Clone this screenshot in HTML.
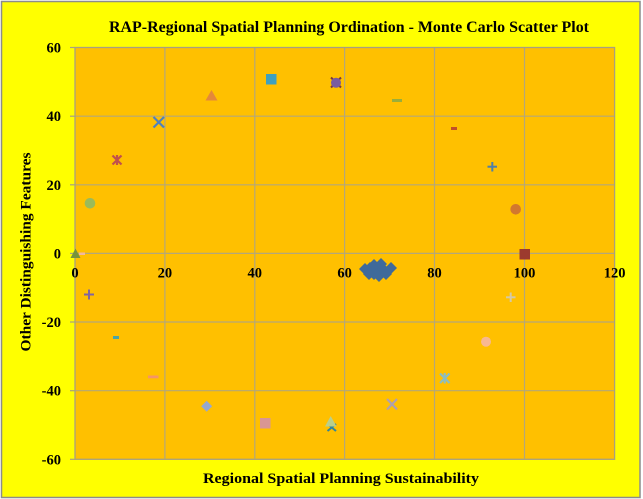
<!DOCTYPE html>
<html><head><meta charset="utf-8"><style>
html,body{margin:0;padding:0;background:#fff;}
svg{display:block;}
text{font-family:"Liberation Serif",serif;font-weight:bold;fill:#000;}
</style></head><body>
<svg width="643" height="499" viewBox="0 0 643 499" xmlns="http://www.w3.org/2000/svg">
<rect x="0" y="0" width="643" height="499" fill="#ffffff"/>
<rect x="1.5" y="1.5" width="638.5" height="496" fill="#FFFF00" stroke="#8c8c8c" stroke-width="1.5"/>
<text x="349" y="32" font-size="15.5" text-anchor="middle" textLength="480" lengthAdjust="spacingAndGlyphs">RAP-Regional Spatial Planning Ordination  - Monte Carlo Scatter Plot</text>
<!-- plot area -->
<rect x="75" y="47.5" width="539.6" height="411.8" fill="#FFC000"/>
<g stroke="#B3A77A" stroke-width="1.2">
<line x1="164.9" y1="47.5" x2="164.9" y2="459.3"/>
<line x1="254.8" y1="47.5" x2="254.8" y2="459.3"/>
<line x1="344.6" y1="47.5" x2="344.6" y2="459.3"/>
<line x1="434.5" y1="47.5" x2="434.5" y2="459.3"/>
<line x1="524.5" y1="47.5" x2="524.5" y2="459.3"/>
<line x1="75" y1="116.2" x2="614.6" y2="116.2"/>
<line x1="75" y1="184.8" x2="614.6" y2="184.8"/>
<line x1="75" y1="253.4" x2="614.6" y2="253.4"/>
<line x1="75" y1="322" x2="614.6" y2="322"/>
<line x1="75" y1="390.7" x2="614.6" y2="390.7"/>
</g>
<rect x="75" y="47.5" width="539.6" height="411.8" fill="none" stroke="#A8A080" stroke-width="1.3"/>
<!-- y ticks -->
<g stroke="#A8A080" stroke-width="1.2">
<line x1="70" y1="47.5" x2="75" y2="47.5"/>
<line x1="70" y1="116.2" x2="75" y2="116.2"/>
<line x1="70" y1="184.8" x2="75" y2="184.8"/>
<line x1="70" y1="253.4" x2="75" y2="253.4"/>
<line x1="70" y1="322" x2="75" y2="322"/>
<line x1="70" y1="390.7" x2="75" y2="390.7"/>
<line x1="70" y1="459.3" x2="75" y2="459.3"/>
</g>
<g font-size="14.5" text-anchor="end">
<text x="61" y="52.5">60</text>
<text x="61" y="121.2">40</text>
<text x="61" y="189.8">20</text>
<text x="61" y="258.4">0</text>
<text x="61" y="327">-20</text>
<text x="61" y="395.7">-40</text>
<text x="61" y="464.3">-60</text>
</g>
<g font-size="14.5" text-anchor="middle">
<text x="75" y="277.5">0</text>
<text x="164.9" y="277.5">20</text>
<text x="254.8" y="277.5">40</text>
<text x="344.6" y="277.5">60</text>
<text x="434.5" y="277.5">80</text>
<text x="524.5" y="277.5">100</text>
<text x="614.6" y="277.5">120</text>
</g>
<text x="341" y="483" font-size="14.5" text-anchor="middle" textLength="276" lengthAdjust="spacingAndGlyphs">Regional  Spatial Planning Sustainability</text>
<text transform="translate(30.5,252) rotate(-90)" font-size="14.5" text-anchor="middle" textLength="199" lengthAdjust="spacingAndGlyphs">Other Distinguishing Features</text>

<!-- markers -->
<polygon points="75.5,248.5 70.5,258 80.5,258" fill="#76923C"/>
<rect x="79" y="252.5" width="6" height="2.5" fill="#F2B8A0"/>
<circle cx="90" cy="203.3" r="5.3" fill="#9BBB59"/>
<g stroke="#C0504D" stroke-width="2.2">
<line x1="112.5" y1="155.5" x2="121.5" y2="164.5"/>
<line x1="121.5" y1="155.5" x2="112.5" y2="164.5"/>
<line x1="117" y1="155" x2="117" y2="165"/>
</g>
<g stroke="#4F81BD" stroke-width="2.2">
<line x1="153.5" y1="117" x2="164" y2="127.5"/>
<line x1="164" y1="117" x2="153.5" y2="127.5"/>
</g>
<polygon points="211.5,90 205.5,100.5 217.5,100.5" fill="#E4883A"/>
<rect x="266" y="74" width="10.5" height="10.5" fill="#3FA0BE"/>
<g stroke="#7B3A3A" stroke-width="2">
<line x1="331" y1="77.5" x2="341" y2="87.5"/>
<line x1="341" y1="77.5" x2="331" y2="87.5"/>
</g>
<circle cx="336" cy="82.8" r="5" fill="#7A5CA0"/>
<rect x="392" y="99" width="10" height="3" fill="#9AAE3A"/>
<rect x="451" y="127" width="6" height="3" fill="#C0502A"/>
<g stroke="#4F7FA8" stroke-width="2">
<line x1="487.5" y1="166.7" x2="497" y2="166.7"/>
<line x1="492.3" y1="162" x2="492.3" y2="171.5"/>
</g>
<circle cx="515.7" cy="209.3" r="5.3" fill="#D2782E"/>
<rect x="519.5" y="249" width="10.5" height="10.5" fill="#9C3A2E"/>
<g fill="#3F6A9A">
<polygon points="365,263 371,269 365,275 359,269"/>
<polygon points="370,262 376,268 370,274 364,268"/>
<polygon points="374,259 380,265 374,271 368,265"/>
<polygon points="377,262 383,268 377,274 371,268"/>
<polygon points="374,268 380,274 374,280 368,274"/>
<polygon points="379,270 385,276 379,282 373,276"/>
<polygon points="383,263 389,269 383,275 377,269"/>
<polygon points="386,268 392,274 386,280 380,274"/>
<polygon points="391,262 397,268 391,274 385,268"/>
<polygon points="381,258 387,264 381,270 375,264"/>
<polygon points="369,268 375,274 369,280 363,274"/>
</g>
<g stroke="#8064A2" stroke-width="2">
<line x1="84" y1="294.5" x2="94" y2="294.5"/>
<line x1="89" y1="289.5" x2="89" y2="299.5"/>
</g>
<rect x="113" y="336" width="6" height="3" fill="#4AA5A5"/>
<rect x="148" y="375.5" width="10.5" height="2.8" fill="#F4956A"/>
<polygon points="206.7,400.8 212.2,406.3 206.7,411.8 201.2,406.3" fill="#95A8D0"/>
<rect x="260" y="418" width="10.5" height="10.5" fill="#D99694"/>
<g stroke="#31859C" stroke-width="2">
<line x1="327.5" y1="424" x2="336" y2="431"/>
<line x1="336" y1="424" x2="327.5" y2="431"/>
</g>
<polygon points="330.7,416 325,426.5 336.5,426.5" fill="#B8CF8E"/>
<g stroke="#B0A0AE" stroke-width="2.2">
<line x1="387" y1="399" x2="397" y2="409.5"/>
<line x1="397" y1="399" x2="387" y2="409.5"/>
</g>
<g stroke="#8DBDC0" stroke-width="2.2">
<line x1="440" y1="373.5" x2="449.5" y2="383"/>
<line x1="449.5" y1="373.5" x2="440" y2="383"/>
<line x1="444.7" y1="373" x2="444.7" y2="383.5"/>
</g>
<circle cx="486" cy="341.7" r="5" fill="#F8B890"/>
<g stroke="#D3C9A8" stroke-width="2">
<line x1="506" y1="297.3" x2="515.5" y2="297.3"/>
<line x1="510.7" y1="292.5" x2="510.7" y2="302"/>
</g>
</svg>
</body></html>
